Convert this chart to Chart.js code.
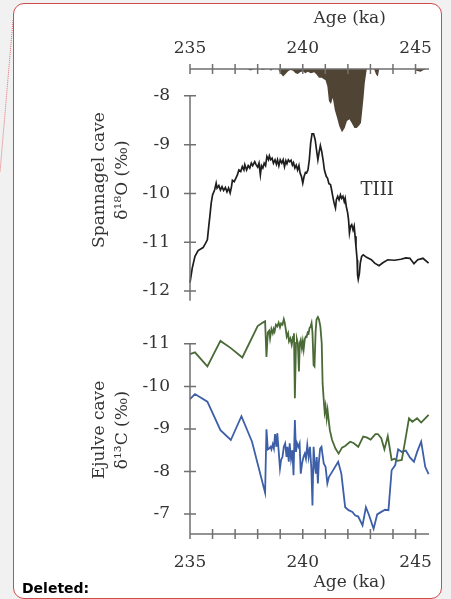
<!DOCTYPE html>
<html>
<head>
<meta charset="utf-8">
<title>Spannagel and Ejulve cave records</title>
<script src="https://cdn.jsdelivr.net/npm/chart.js@4.4.0/dist/chart.umd.min.js"></script>
<style>
  html, body { margin: 0; padding: 0; width: 451px; height: 599px; overflow: hidden; background: #f1f1f1; }
  #frame { position: absolute; left: 13px; top: 3px; width: 429px; height: 596px; box-sizing: border-box;
           background: #fff; border: 1px solid #d04a4a; border-radius: 11px; }
  #marks { position: absolute; left: 0; top: 0; }
  #chart { position: absolute; left: 0; top: 0; }
  #note { position: absolute; left: 22px; top: 580px; font: bold 14px "DejaVu Sans", sans-serif; color: #000; }
</style>
</head>
<body>
<div id="frame"></div>
<svg id="marks" width="451" height="599">
  <line x1="13" y1="20" x2="0" y2="172" stroke="#e07272" stroke-width="1" stroke-dasharray="1,1" />
</svg>
<canvas id="chart" width="451" height="599"></canvas>
<div id="note">Deleted:</div>
<script>
// ages in ka
var ageTicks = [235, 236, 237, 238, 239, 240, 241, 242, 243, 244, 245]
var ageLabels = [235, 240, 245]
var o18Ticks = [-8, -9, -10, -11, -12]
var c13Ticks = [-11, -10, -9, -8, -7]

// Spannagel cave d18O
var o18Age = [
  235.0, 235.1, 235.22, 235.36, 235.58, 235.68, 235.77, 235.83, 235.88, 235.94,
  236.0, 236.09, 236.16, 236.2, 236.28, 236.35, 236.42, 236.49, 236.57, 236.64,
  236.71, 236.78, 236.84, 236.88, 236.96, 237.03, 237.1, 237.17, 237.25, 237.32,
  237.39, 237.43, 237.51, 237.58, 237.65, 237.72, 237.78, 237.87, 237.94, 238.0,
  238.06, 238.12, 238.17, 238.23, 238.29, 238.35, 238.41, 238.48, 238.52, 238.58,
  238.64, 238.7, 238.77, 238.83, 238.88, 238.94, 239.0, 239.07, 239.13, 239.19,
  239.25, 239.3, 239.36, 239.42, 239.48, 239.54, 239.59, 239.65, 239.71, 239.77,
  239.83, 239.88, 239.94, 240.0, 240.06, 240.12, 240.17, 240.23, 240.29, 240.35,
  240.41, 240.48, 240.55, 240.61, 240.67, 240.72, 240.78, 240.84, 240.9, 240.96,
  241.04, 241.1, 241.16, 241.23, 241.28, 241.33, 241.39, 241.45, 241.49, 241.55,
  241.61, 241.67, 241.72, 241.78, 241.84, 241.88, 241.93, 241.99, 242.03, 242.07,
  242.12, 242.17, 242.23, 242.28, 242.32, 242.36, 242.41, 242.43, 242.46, 242.51,
  242.55, 242.61, 242.68, 242.83, 243.04, 243.19, 243.38, 243.55, 243.77, 244.06,
  244.35, 244.57, 244.75, 244.93, 245.1, 245.33, 245.58,
]
var o18Value = [
  -11.83, -11.53, -11.29, -11.17, -11.11, -11.03, -10.95, -10.68, -10.47, -10.2,
  -10.03, -9.93, -9.79, -9.89, -9.84, -9.93, -9.86, -9.94, -9.88, -9.97,
  -9.89, -9.99, -9.86, -9.73, -9.76, -9.69, -9.62, -9.52, -9.55, -9.45,
  -9.52, -9.41, -9.52, -9.43, -9.48, -9.38, -9.43, -9.35, -9.42, -9.46,
  -9.38, -9.62, -9.43, -9.48, -9.38, -9.43, -9.24, -9.31, -9.23, -9.31,
  -9.28, -9.38, -9.31, -9.4, -9.31, -9.43, -9.31, -9.38, -9.31, -9.45,
  -9.33, -9.39, -9.31, -9.35, -9.32, -9.42, -9.37, -9.48, -9.42, -9.52,
  -9.43, -9.58, -9.65, -9.79, -9.65, -9.57, -9.58, -9.52, -9.31, -8.97,
  -8.78, -8.78, -8.9, -9.11, -9.31, -9.17, -9.02, -9.14, -9.31, -9.52,
  -9.65, -9.69, -9.8, -9.82, -9.93, -10.06, -10.2, -10.3, -10.13, -10.06,
  -10.13, -10.03, -10.1, -10.06, -10.17, -10.1, -10.27, -10.4, -10.54, -10.81,
  -10.67, -10.64, -10.75, -10.67, -10.88, -11.09, -11.36, -11.67, -11.76, -11.64,
  -11.43, -11.29, -11.26, -11.31, -11.36, -11.43, -11.48, -11.42, -11.36, -11.37,
  -11.35, -11.32, -11.33, -11.44, -11.36, -11.33, -11.43,
]

// brown anomaly hanging from the top age axis
var anomalyAge = [
  237.54, 237.68, 237.83, 238.12, 238.23, 238.35, 238.52, 238.59, 238.67, 238.91,
  239.01, 239.13, 239.25, 239.35, 239.45, 239.57, 239.68, 239.78, 239.88, 240.0,
  240.12, 240.22, 240.36, 240.51, 240.61, 240.72, 240.84, 240.94, 241.01, 241.09,
  241.16, 241.25, 241.33, 241.42, 241.52, 241.62, 241.74, 241.86, 241.96, 242.07,
  242.17, 242.29, 242.39, 242.49, 242.58, 242.64, 242.7, 242.75, 242.84, 243.16,
  243.25, 243.33, 243.39, 244.93, 245.04, 245.22, 245.36, 245.48,
]
var anomalyValue = [
  0, 0.03, 0, 0, 0.02, 0, 0, 0.04, 0, 0,
  0.09, 0.16, 0.1, 0.05, 0.02, 0.04, 0.09, 0.11, 0.07, 0.05,
  0.09, 0.06, 0.09, 0.07, 0.12, 0.19, 0.19, 0.22, 0.24, 0.37,
  0.69, 0.75, 0.62, 0.88, 1.05, 1.23, 1.36, 1.27, 1.12, 1.08,
  1.16, 1.27, 1.27, 1.22, 1.16, 0.88, 0.59, 0.3, 0, 0,
  0.12, 0.16, 0, 0, 0.04, 0.06, 0.02, 0,
]

// Ejulve cave d13C, green record
var greenAge = [
  235.0, 235.22, 235.77, 236.35, 236.81, 237.32, 238.0, 238.23, 238.33, 238.39,
  238.45, 238.51, 238.55, 238.61, 238.67, 238.71, 238.75, 238.81, 238.87, 238.93,
  238.99, 239.04, 239.1, 239.16, 239.2, 239.25, 239.29, 239.35, 239.39, 239.45,
  239.51, 239.57, 239.61, 239.65, 239.7, 239.74, 239.78, 239.83, 239.87, 239.91,
  239.96, 240.0, 240.04, 240.09, 240.13, 240.17, 240.22, 240.26, 240.3, 240.35,
  240.39, 240.43, 240.48, 240.52, 240.57, 240.61, 240.67, 240.72, 240.78, 240.84,
  240.88, 240.93, 240.97, 241.01, 241.06, 241.1, 241.14, 241.2, 241.3, 241.45,
  241.59, 241.74, 241.88, 242.1, 242.25, 242.46, 242.68, 242.83, 243.01, 243.22,
  243.33, 243.48, 243.62, 243.77, 243.94, 244.06, 244.2, 244.39, 244.52, 244.71,
  244.86, 245.07, 245.25, 245.43, 245.58,
]
var greenValue = [
  -10.76, -10.8, -10.47, -11.07, -10.9, -10.68, -11.42, -11.5, -11.53, -10.69,
  -11.27, -11.31, -11.13, -11.35, -11.25, -11.35, -11.29, -11.45, -11.41, -11.5,
  -11.39, -11.48, -11.45, -11.58, -11.5, -11.33, -11.17, -11.25, -11.06, -11.13,
  -10.98, -11.17, -11.25, -9.72, -11.02, -11.11, -11.02, -10.35, -11.02, -11.09,
  -10.9, -11.06, -10.87, -11.11, -11.17, -11.16, -11.27, -11.25, -11.37, -11.41,
  -11.49, -11.27, -10.5, -10.47, -11.29, -11.57, -11.63, -11.57, -11.41, -11.02,
  -10.07, -9.68, -9.4, -9.54, -9.25, -9.44, -9.25, -8.97, -8.74, -8.54,
  -8.42, -8.56, -8.6, -8.7, -8.67, -8.58, -8.82, -8.8, -8.75, -8.88,
  -8.88, -8.78, -8.52, -8.83, -8.27, -8.3, -8.25, -8.27, -8.66, -9.25,
  -9.17, -9.25, -9.15, -9.25, -9.33,
]

// Ejulve cave d13C, blue record
var blueAge = [
  235.0, 235.22, 235.77, 236.35, 236.81, 237.28, 237.75, 238.33, 238.39, 238.45,
  238.51, 238.57, 238.61, 238.67, 238.72, 238.77, 238.83, 238.87, 238.93, 238.99,
  239.04, 239.1, 239.16, 239.22, 239.28, 239.32, 239.38, 239.42, 239.48, 239.54,
  239.59, 239.65, 239.7, 239.75, 239.81, 239.86, 239.91, 239.97, 240.03, 240.09,
  240.14, 240.2, 240.26, 240.32, 240.38, 240.43, 240.48, 240.54, 240.58, 240.62,
  240.67, 240.71, 240.77, 240.83, 240.87, 240.93, 241.01, 241.09, 241.16, 241.3,
  241.57, 241.71, 241.88, 242.03, 242.2, 242.32, 242.46, 242.65, 242.8, 242.94,
  243.14, 243.3, 243.48, 243.65, 243.8, 243.94, 244.1, 244.23, 244.39, 244.57,
  244.75, 244.93, 245.07, 245.25, 245.43, 245.58,
]
var blueValue = [
  -9.7, -9.82, -9.64, -8.97, -8.74, -9.3, -8.7, -7.5, -8.99, -8.52,
  -8.54, -8.58, -8.52, -8.64, -8.54, -8.88, -8.58, -8.9, -8.5, -8.07,
  -8.27, -8.34, -8.58, -8.66, -8.34, -8.58, -8.23, -8.66, -8.29, -8.5,
  -7.91, -9.21, -8.46, -8.66, -8.58, -8.66, -7.95, -8.19, -8.34, -8.42,
  -8.3, -8.62, -8.34, -8.58, -8.07, -7.2, -8.58, -8.11, -7.95, -8.34,
  -7.72, -8.19, -8.54, -8.58, -8.42, -8.19, -8.11, -7.72, -7.87, -7.99,
  -8.23, -7.95, -7.16, -7.09, -7.05, -6.97, -6.94, -6.73, -7.16, -6.97,
  -6.65, -6.99, -7.05, -7.1, -7.09, -8.03, -8.15, -8.52, -8.46, -8.49,
  -8.33, -8.23, -8.46, -8.7, -8.11, -7.94,
]

var annotationText = 'TIII'
var annotationAge = 243.3
var annotationValue = -9.93

var TEXT = '#333333'
var AXIS = '#707070'
var SERIF = '"DejaVu Serif", serif'
var tickFont = { family: SERIF, size: 17, lineHeight: 1.2 }
var titleFont = { family: SERIF, size: 17, lineHeight: 1.3 }

function pairs(xs, ys) {
  return xs.map(function (x, i) { return { x: x, y: ys[i] } })
}

function setTicks(list) {
  return function (scale) { scale.ticks = list.map(function (v) { return { value: v } }) }
}

// axis lines with ticks crossing the line, plus the TIII label
var crossAxes = {
  id: 'crossAxes',
  afterDraw: function (chart) {
    var ctx = chart.ctx
    var s = chart.scales
    var area = chart.chartArea
    ctx.save()
    ctx.strokeStyle = AXIS
    ctx.lineWidth = 1.5
    ctx.beginPath()
    ;[area.top, area.bottom].forEach(function (y) {
      ctx.moveTo(area.left, y)
      ctx.lineTo(area.right, y)
      ageTicks.forEach(function (v) {
        var x = s.x.getPixelForValue(v)
        ctx.moveTo(x, y - 5)
        ctx.lineTo(x, y + 5)
      })
    })
    var x0 = area.left
    ctx.moveTo(x0, s.yO.getPixelForValue(-8))
    ctx.lineTo(x0, s.yO.getPixelForValue(-12.2))
    o18Ticks.forEach(function (v) {
      var y = s.yO.getPixelForValue(v)
      ctx.moveTo(x0 - 6, y)
      ctx.lineTo(x0 + 6, y)
    })
    ctx.moveTo(x0, s.yC.getPixelForValue(-11))
    ctx.lineTo(x0, area.bottom)
    c13Ticks.forEach(function (v) {
      var y = s.yC.getPixelForValue(v)
      ctx.moveTo(x0 - 6, y)
      ctx.lineTo(x0 + 6, y)
    })
    ctx.stroke()

    ctx.fillStyle = TEXT
    ctx.font = '18px ' + SERIF
    ctx.textAlign = 'center'
    ctx.textBaseline = 'middle'
    ctx.fillText(annotationText, s.x.getPixelForValue(annotationAge), s.yO.getPixelForValue(annotationValue))
    ctx.restore()
  },
}

var noGrid = { display: false, drawTicks: false }
var noBorder = { display: false }

var ctx = document.getElementById('chart').getContext('2d')

var chart = new Chart(ctx, {
  type: 'line',
  data: {
    datasets: [
      {
        label: 'anomaly',
        data: pairs(anomalyAge, anomalyValue),
        xAxisID: 'x',
        yAxisID: 'yB',
        borderWidth: 0,
        pointRadius: 0,
        backgroundColor: '#504434',
        fill: { value: 0 },
        tension: 0,
      },
      {
        label: 'Spannagel d18O',
        data: pairs(o18Age, o18Value),
        xAxisID: 'x',
        yAxisID: 'yO',
        borderColor: '#1e1e1e',
        borderWidth: 1.7,
        pointRadius: 0,
        fill: false,
        clip: false,
        tension: 0,
      },
      {
        label: 'Ejulve d13C green',
        data: pairs(greenAge, greenValue),
        xAxisID: 'x',
        yAxisID: 'yC',
        borderColor: '#4a6a36',
        borderWidth: 1.8,
        pointRadius: 0,
        fill: false,
        clip: false,
        tension: 0,
      },
      {
        label: 'Ejulve d13C blue',
        data: pairs(blueAge, blueValue),
        xAxisID: 'x',
        yAxisID: 'yC',
        borderColor: '#3d5fa8',
        borderWidth: 1.8,
        pointRadius: 0,
        fill: false,
        clip: false,
        tension: 0,
      },
    ],
  },
  options: {
    responsive: false,
    animation: false,
    devicePixelRatio: 1,
    layout: { padding: { left: 89, right: 17, top: 8, bottom: 0 } },
    plugins: {
      legend: { display: false },
      tooltip: { enabled: false },
    },
    scales: {
      x: {
        type: 'linear',
        position: 'bottom',
        min: 235,
        max: 245.6,
        bounds: 'data',
        grid: noGrid,
        border: noBorder,
        ticks: {
          autoSkip: false,
          maxRotation: 0,
          padding: 18,
          color: TEXT,
          font: tickFont,
          callback: function (v) { return ageLabels.indexOf(v) >= 0 ? String(v) : '' },
        },
        afterBuildTicks: setTicks(ageTicks),
        afterFit: function (scale) { scale.height = 65 },
        title: {
          display: true,
          text: 'Age (ka)' + '\u00a0'.repeat(8),
          align: 'end',
          color: TEXT,
          font: { family: SERIF, size: 17, lineHeight: 1.2 },
          padding: { top: 0, bottom: 6 },
        },
      },
      xTop: {
        type: 'linear',
        position: 'top',
        min: 235,
        max: 245.6,
        bounds: 'data',
        grid: noGrid,
        border: noBorder,
        ticks: {
          autoSkip: false,
          maxRotation: 0,
          padding: 10,
          color: TEXT,
          font: tickFont,
          callback: function (v) { return ageLabels.indexOf(v) >= 0 ? String(v) : '' },
        },
        afterBuildTicks: setTicks(ageTicks),
        afterFit: function (scale) { scale.height = 61 },
        title: {
          display: true,
          text: 'Age (ka)' + '\u00a0'.repeat(8),
          align: 'end',
          color: TEXT,
          font: { family: SERIF, size: 17, lineHeight: 1.2 },
          padding: { top: 0, bottom: 0 },
        },
      },
      yO: {
        type: 'linear',
        position: 'left',
        stack: 'left',
        stackWeight: 222,
        weight: 3,
        min: -12,
        max: -7.45,
        bounds: 'data',
        grid: noGrid,
        border: noBorder,
        ticks: { padding: 20, color: TEXT, font: tickFont },
        afterBuildTicks: setTicks(o18Ticks),
        afterFit: function (scale) { scale.width = 101 },
        title: {
          display: true,
          text: ['Spannagel cave', 'δ¹⁸O (‰)'],
          color: TEXT,
          font: titleFont,
          padding: 0,
        },
      },
      yGap: {
        type: 'linear',
        position: 'left',
        stack: 'left',
        stackWeight: 35,
        weight: 2,
        min: 0,
        max: 1,
        grid: noGrid,
        border: noBorder,
        ticks: { display: false },
        afterFit: function (scale) { scale.width = 0 },
      },
      yC: {
        type: 'linear',
        position: 'left',
        stack: 'left',
        stackWeight: 208,
        weight: 1,
        reverse: true,
        min: -11.42,
        max: -6.53,
        bounds: 'data',
        grid: noGrid,
        border: noBorder,
        ticks: { padding: 20, color: TEXT, font: tickFont },
        afterBuildTicks: setTicks(c13Ticks),
        afterFit: function (scale) { scale.width = 101 },
        title: {
          display: true,
          text: ['Ejulve cave', 'δ¹³C (‰)'],
          color: TEXT,
          font: titleFont,
          padding: 0,
        },
      },
      yB: {
        type: 'linear',
        position: 'right',
        display: false,
        reverse: true,
        min: 0,
        max: 10,
      },
    },
  },
  plugins: [crossAxes],
})

window.chart = chart
</script>
</body>
</html>
